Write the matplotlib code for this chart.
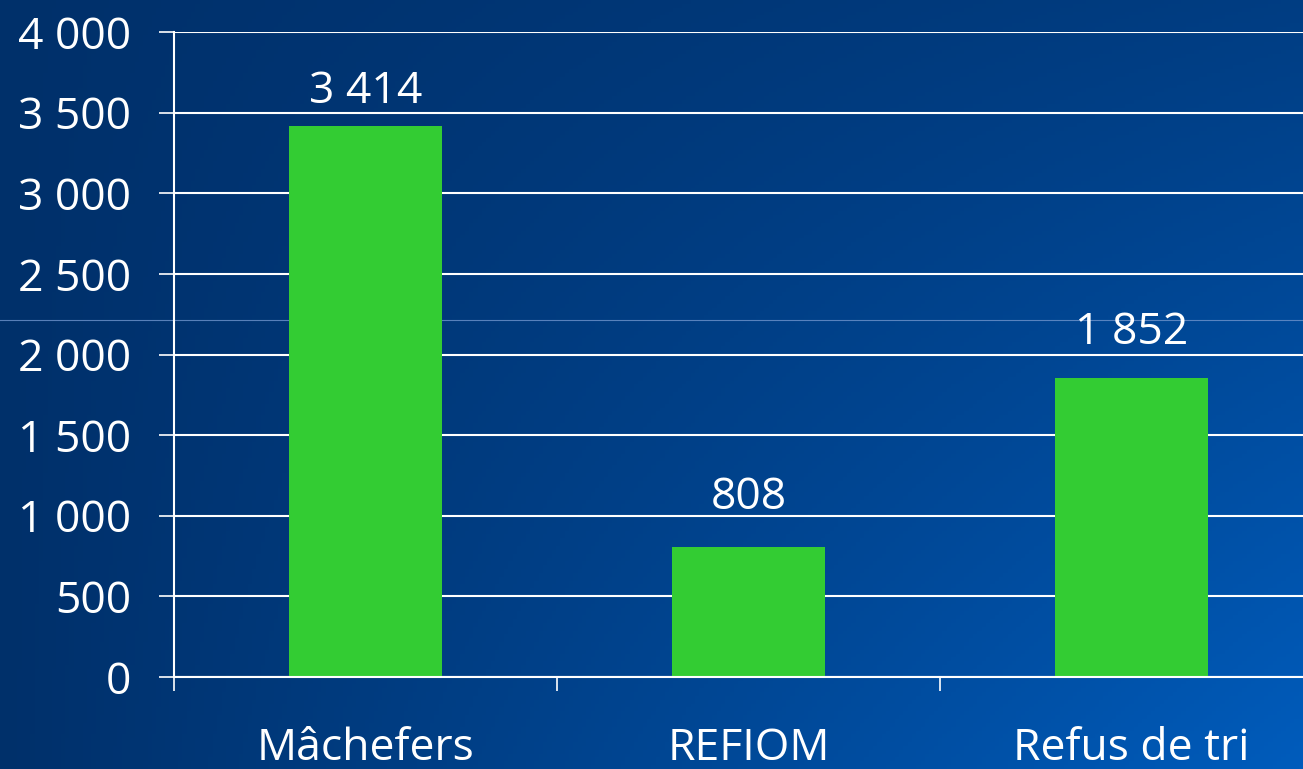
import matplotlib

matplotlib.use("Agg")
import matplotlib.pyplot as plt
import numpy as np
from matplotlib.lines import Line2D

categories = ["Mâchefers", "REFIOM", "Refus de tri"]
values = [3414, 808, 1852]
yticks = [0, 500, 1000, 1500, 2000, 2500, 3000, 3500, 4000]

BAR_COLOR = "#33cc33"
FONT = "Open Sans"
FS = 32
# label offsets above each bar, in points (as placed on the slide)
LABEL_OFFSETS = [9, 19, 17]


def fmt(v):
    return f"{v:,.0f}".replace(",", " ")


W, H = 1303, 769
fig = plt.figure(figsize=(W / 100, H / 100), dpi=100)

# slide background: dark navy top-left to brighter blue bottom-right
bg = fig.add_axes([0, 0, 1, 1], zorder=-10)
gx, gy = np.meshgrid(np.linspace(0, 1, 300), np.linspace(0, 1, 200))
t = gx * (0.3 + 0.7 * gy)
c0 = np.array([0, 48, 106]) / 255
c1 = np.array([0, 92, 188]) / 255
img = c0 + t[..., None] * (c1 - c0)
bg.imshow(img, aspect="auto", extent=[0, 1, 1, 0])
bg.add_line(Line2D([0, 1], [320 / H] * 2, color="#6f94cc", lw=0.8, alpha=0.8))
bg.set_xlim(0, 1)
bg.set_ylim(1, 0)
bg.set_axis_off()

ax = fig.add_axes([174 / W, 1 - 677 / H, 1149 / W, 645 / H])
ax.patch.set_alpha(0)
x = np.arange(len(categories))
ax.bar(x, values, width=0.4, color=BAR_COLOR, zorder=3)

for xi, v, off in zip(x, values, LABEL_OFFSETS):
    ax.annotate(fmt(v), (xi, v), xytext=(0, off), textcoords="offset points",
                ha="center", va="bottom", color="white", fontsize=FS, family=FONT)

ax.set_xlim(-0.5, 2.5)
ax.set_ylim(0, 4000)
ax.set_yticks(yticks)
ax.set_yticklabels([fmt(v) for v in yticks], fontsize=FS, color="white", family=FONT)
ax.tick_params(axis="y", direction="out", length=11, width=1.2, color="white", pad=20)

ax.set_xticks([-0.5, 0.5, 1.5, 2.5])
ax.set_xticklabels([])
ax.tick_params(axis="x", which="major", direction="out", length=10, width=1.2, color="white")
ax.set_xticks(x, minor=True)
ax.set_xticklabels(categories, minor=True, fontsize=FS, color="white", family=FONT)
ax.tick_params(axis="x", which="minor", length=0, pad=36)

ax.grid(axis="y", color="white", lw=1.5, zorder=1)
for side in ["top", "right"]:
    ax.spines[side].set_visible(False)
for side in ["left", "bottom"]:
    ax.spines[side].set_color("white")
    ax.spines[side].set_linewidth(1.5)
ax.spines["bottom"].set_zorder(4)

fig.savefig("out.png", dpi=100)
